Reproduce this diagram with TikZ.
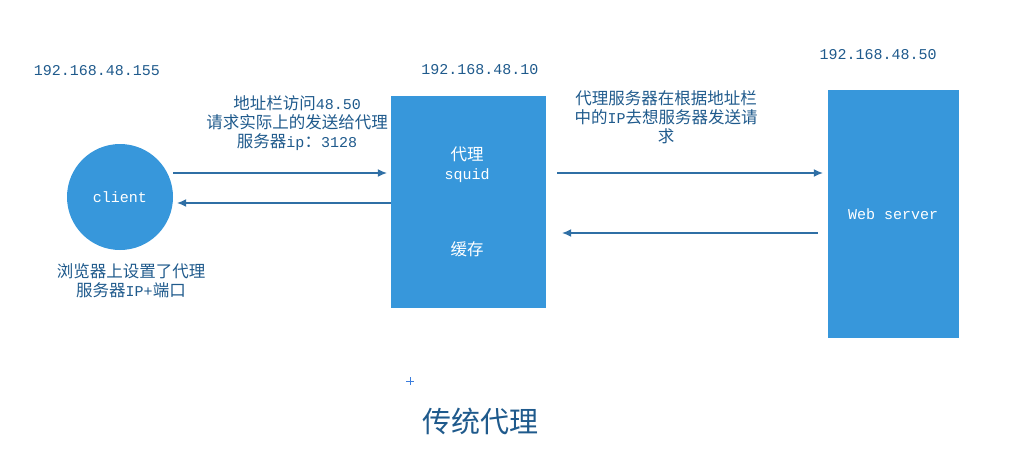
\documentclass[tikz,border=0pt]{standalone}
\usepackage{fontspec}
\setmainfont{Liberation Mono}
\newfontfamily\cjk[Scale=1.1]{Noto Sans CJK SC}
\newfontfamily\cjktitle{Noto Sans CJK SC}
\usetikzlibrary{arrows.meta}
\definecolor{txt}{HTML}{1F5A8C}
\definecolor{boxc}{HTML}{3797DB}
\definecolor{arr}{HTML}{2F6FA5}
\definecolor{crossc}{HTML}{3B7DDD}
\begin{document}
\begin{tikzpicture}[x=1pt,y=-1pt,
  lbl/.style={text=txt,font=\fontsize{15}{19}\selectfont,align=center,inner sep=0pt},
  wlbl/.style={text=white,font=\fontsize{15}{19}\selectfont,align=center,inner sep=0pt},
  boxnode/.style={rectangle,fill=boxc,inner sep=0pt},
  conn/.style={draw=arr,line width=1.2pt,-{Latex[length=9pt,width=8pt]}}]
\useasboundingbox (0,0) rectangle (1024,456);
% shapes
\node[circle,fill=boxc,minimum size=106pt,inner sep=0pt] (client) at (120,197) {};
\node[boxnode,minimum width=155pt,minimum height=212pt] (squid) at (468.5,202) {};
\node[boxnode,minimum width=131pt,minimum height=248pt] (web) at (893.5,214) {};
% texts in shapes
\node[wlbl] (clientt) at (120,197) {client};
\node[wlbl] (squidt) at (467,165) {{\cjk 代理}\\squid};
\node[wlbl] (cache) at (467,249) {\cjk 缓存};
\node[wlbl] (webt) at (893,214) {Web server};
% ip labels
\node[lbl] (ip1) at (97,71) {192.168.48.155};
\node[lbl] (ip2) at (480,70) {192.168.48.10};
\node[lbl] (ip3) at (878,55) {192.168.48.50};
% other labels
\node[lbl] (l1) at (297,123) {{\cjk 地址栏访问}48.50\\{\cjk 请求实际上的发送给代理}\\{\cjk 服务器}ip{\cjk ：}3128};
\node[lbl] (l2) at (666,117) {{\cjk 代理服务器在根据地址栏}\\{\cjk 中的}IP{\cjk 去想服务器发送请}\\{\cjk 求}};
\node[lbl] (l3) at (131,281) {{\cjk 浏览器上设置了代理}\\{\cjk 服务器}IP+{\cjk 端口}};
\node[text=txt,inner sep=0pt,font=\fontsize{29}{32}\selectfont\cjktitle] (title) at (480,421) {传统代理};
% connectors
\draw[conn,shorten >=4pt] (client.east |- 0,173) -- (squid.west |- 0,173);
\draw[conn,shorten >=4pt] (squid.west |- 0,203) -- (client.east |- 0,203);
\draw[conn,shorten <=11pt,shorten >=5pt] (squid.east |- 0,173) -- (web.west |- 0,173);
\draw[conn,shorten <=10pt,shorten >=16pt] (web.west |- 0,233) -- (squid.east |- 0,233);
% small cross mark
\coordinate (cross) at (410,381);
\draw[crossc,line width=0.8pt] ([xshift=-4pt]cross) -- ([xshift=4pt]cross) ([yshift=-4pt]cross) -- ([yshift=4pt]cross);
\end{tikzpicture}
\end{document}
